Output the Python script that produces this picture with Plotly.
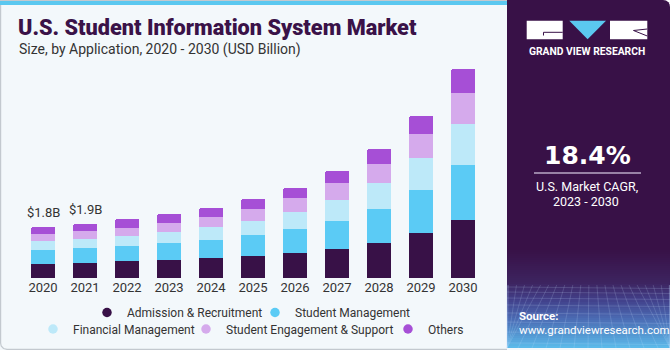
import plotly.graph_objects as go

# ---- data (USD billion) ----
years = [2020, 2021, 2022, 2023, 2024, 2025, 2026, 2027, 2028, 2029, 2030]
admission_recruitment = [0.50, 0.55, 0.59, 0.64, 0.70, 0.77, 0.87, 1.03, 1.24, 1.57, 2.02]
student_management = [0.48, 0.50, 0.52, 0.60, 0.63, 0.73, 0.84, 0.98, 1.18, 1.50, 1.93]
financial_management = [0.31, 0.33, 0.36, 0.37, 0.47, 0.51, 0.60, 0.73, 0.89, 1.11, 1.43]
engagement_support = [0.27, 0.28, 0.30, 0.33, 0.34, 0.40, 0.48, 0.57, 0.67, 0.85, 1.08]
others = [0.24, 0.24, 0.28, 0.29, 0.30, 0.35, 0.36, 0.42, 0.52, 0.63, 0.83]

segment_names = ["Admission & Recruitment", "Student Management", "Financial Management",
                 "Student Engagement & Support", "Others"]
segment_values = [admission_recruitment, student_management, financial_management,
                  engagement_support, others]
segment_colors = ["#381147", "#5BCBF5", "#BDE9F9", "#D5AAEC", "#A64FD6"]

labelled_years = [2020, 2021]
cagr_text = "18.4%"

W, H = 670, 350
FONT = "Roboto"


def fx(x):
    return x / W


def fy(y):
    return 1 - y / H


def path(points, close=True):
    s = "M " + " L ".join(f"{fx(x):.5f},{fy(y):.5f}" for x, y in points)
    return s + (" Z" if close else "")


fig = go.Figure()

# stacked bars
for name, vals, col in zip(segment_names, segment_values, segment_colors):
    fig.add_trace(go.Bar(x=years, y=vals, name=name, marker=dict(color=col, line=dict(width=0)),
                         width=0.58, showlegend=False, hoverinfo="x+y+name"))

# legend entries with round markers, split over two rows;
# per-entry widths keep the rows compact
legend_rows = ["legend", "legend", "legend2", "legend2", "legend2"]
entry_widths = [123, None, 108, 157, None]
for name, col, lg, ew in zip(segment_names, segment_colors, legend_rows, entry_widths):
    kw = dict(legendwidth=ew) if ew else {}
    fig.add_trace(go.Scatter(x=[None], y=[None], mode="markers", name=name,
                             marker=dict(symbol="circle", size=9.5, color=col),
                             legend=lg, **kw))

totals = [sum(v) for v in zip(*segment_values)]

shapes = []
# right dark panel corner backdrop
shapes.append(dict(type="rect", xref="paper", yref="paper", x0=fx(655), x1=fx(670), y0=fy(15), y1=fy(0),
                   fillcolor="#FFFFFF", line=dict(width=0), layer="below"))
# right dark panel with rounded top-right corner
panel_pts = [(507, 0), (663, 0), (666, 0.6), (668.5, 2.2), (669.6, 4.5), (670, 7), (670, 348), (507, 348)]
shapes.append(dict(type="path", xref="paper", yref="paper", path=path(panel_pts),
                   fillcolor="#381147", line=dict(width=0), layer="below"))

# gradient towards the bottom of the panel
stops = [(250, (0x38, 0x11, 0x47)), (283, (0x3D, 0x24, 0x60)), (300, (0x42, 0x40, 0x8A)),
         (320, (0x4B, 0x6E, 0xB6)), (348, (0x5C, 0xBC, 0xEB))]


def grad_color(y):
    for (y0, c0), (y1, c1) in zip(stops[:-1], stops[1:]):
        if y0 <= y <= y1:
            t = (y - y0) / (y1 - y0)
            c = [round(a + (b - a) * t) for a, b in zip(c0, c1)]
            return "rgb({},{},{})".format(*c)
    return "rgb({},{},{})".format(*stops[-1][1])


step = 2
for y in range(250, 348, step):
    shapes.append(dict(type="rect", xref="paper", yref="paper", x0=fx(507), x1=fx(670),
                       y0=fy(min(y + step + 0.5, 348)), y1=fy(y), fillcolor=grad_color(y + step / 2),
                       line=dict(width=0), layer="below"))

# faint perspective mesh on the gradient
mesh = "rgba(200,225,255,0.22)"
for y in [287, 292, 298, 305, 313, 322, 332, 343]:
    shapes.append(dict(type="line", xref="paper", yref="paper", x0=fx(507), x1=fx(670),
                       y0=fy(y), y1=fy(y + 1.5), line=dict(color=mesh, width=0.8), layer="below"))
vx, vy = 590, 200
for bx in range(420, 780, 14):
    t0 = (285 - vy) / (348 - vy)
    x_top = vx + (bx - vx) * t0
    shapes.append(dict(type="line", xref="paper", yref="paper", x0=fx(max(507, min(670, x_top))),
                       x1=fx(max(507, min(670, bx))), y0=fy(285), y1=fy(348),
                       line=dict(color=mesh, width=0.8), layer="below"))

# light area frame and top stripe
shapes.append(dict(type="rect", xref="paper", yref="paper", x0=0, x1=fx(507), y0=fy(1), y1=fy(0),
                   fillcolor="#C3C9CF", line=dict(width=0), layer="below"))
shapes.append(dict(type="rect", xref="paper", yref="paper", x0=0, x1=fx(507), y0=fy(5), y1=fy(1),
                   fillcolor="#5BC8F0", line=dict(width=0), layer="below"))
frame_pts = [(0.6, 5), (0.6, 343), (1.2, 346), (3.5, 348.5), (7, 349.4), (507, 349.4)]
shapes.append(dict(type="path", xref="paper", yref="paper", path=path(frame_pts, close=False),
                   line=dict(color="#C3C9CF", width=1.2), layer="below"))

# logo
shapes.append(dict(type="rect", xref="paper", yref="paper", x0=fx(526.7), x1=fx(562.7), y0=fy(39.3), y1=fy(20.7),
                   fillcolor="#FFFFFF", line=dict(width=0)))
shapes.append(dict(type="rect", xref="paper", yref="paper", x0=fx(610), x1=fx(647.3), y0=fy(39.3), y1=fy(20.7),
                   fillcolor="#FFFFFF", line=dict(width=0)))
shapes.append(dict(type="path", xref="paper", yref="paper",
                   path=path([(569.3, 20.7), (606, 20.7), (587.6, 39.3)]),
                   fillcolor="#5BC8F0", line=dict(width=0)))
dark_line = dict(color="#381147", width=1)
shapes.append(dict(type="path", xref="paper", yref="paper",
                   path=path([(543.5, 35.5), (543.5, 32.3), (562.7, 32.3)], close=False), line=dark_line))
shapes.append(dict(type="path", xref="paper", yref="paper",
                   path=path([(647.3, 29), (633.5, 30.5), (647.3, 36)], close=False), line=dark_line))
# divider under the CAGR figure
shapes.append(dict(type="line", xref="paper", yref="paper", x0=fx(534), x1=fx(641), y0=fy(173), y1=fy(173),
                   line=dict(color="#B9A9C6", width=1.5)))

annotations = []


def text(x, y, s, size, color, weight=400, anchor="left", family=FONT):
    annotations.append(dict(xref="paper", yref="paper", x=fx(x), y=fy(y), text=s, showarrow=False,
                            xanchor=anchor, yanchor="middle",
                            font=dict(family=family, size=size, color=color, weight=weight)))


text(16, 28, "U.S. Student Information System Market", 21.7, "#3A1248", weight=900)
text(17, 49, "Size, by Application, 2020 - 2030 (USD Billion)", 14, "#333333")
text(587, 51.5, "GRAND VIEW RESEARCH", 10.3, "#FFFFFF", weight=700, anchor="center")
text(587.5, 155, cagr_text, 25, "#FFFFFF", weight=700, anchor="center", family="DejaVu Sans")
text(587, 186, "U.S. Market CAGR,", 12.5, "#FFFFFF", anchor="center")
text(586, 201, "2023 - 2030", 12.5, "#FFFFFF", anchor="center")
text(517, 316, "Source:", 11.5, "#FFFFFF", weight=700)
text(517, 330, "www.grandviewresearch.com", 11.5, "#FFFFFF")

for yr in labelled_years:
    tot = totals[years.index(yr)]
    annotations.append(dict(x=yr, y=tot, xref="x", yref="y", text=f"${tot:.1f}B", showarrow=False,
                            yanchor="bottom", yshift=5, font=dict(family=FONT, size=13, color="#333333")))

# axis scaling: 2020 centred at 43 px, 42 px per year; baseline at 278.3 px, 28.7 px per billion
px_per_year, x_first = 42.0, 43.0
base_y, px_per_b = 278.3, 28.7

legend_common = dict(orientation="h", xanchor="left", yanchor="middle", bgcolor="rgba(0,0,0,0)",
                     font=dict(family=FONT, size=12, color="#333333"), itemwidth=30,
                     traceorder="normal")

fig.update_layout(
    width=W, height=H, margin=dict(l=0, r=0, t=0, b=0),
    paper_bgcolor="#F3F8FB", plot_bgcolor="rgba(0,0,0,0)",
    barmode="stack", barcornerradius=2, bargap=0,
    xaxis=dict(domain=[0, 1],
               range=[years[0] - x_first / px_per_year, years[0] + (W - x_first) / px_per_year],
               tickmode="array", tickvals=years, ticktext=[str(y) for y in years],
               showgrid=False, zeroline=False, showline=False, ticks="",
               tickfont=dict(family=FONT, size=13, color="#333333"), fixedrange=True),
    yaxis=dict(domain=[(H - base_y) / H, 1], range=[0, base_y / px_per_b], visible=False,
               showgrid=False, zeroline=False, fixedrange=True),
    legend=dict(x=fx(87), y=fy(312.5), **legend_common),
    legend2=dict(x=fx(33), y=fy(329), **legend_common),
    shapes=shapes, annotations=annotations, showlegend=True,
)

fig.write_html("out.html")
